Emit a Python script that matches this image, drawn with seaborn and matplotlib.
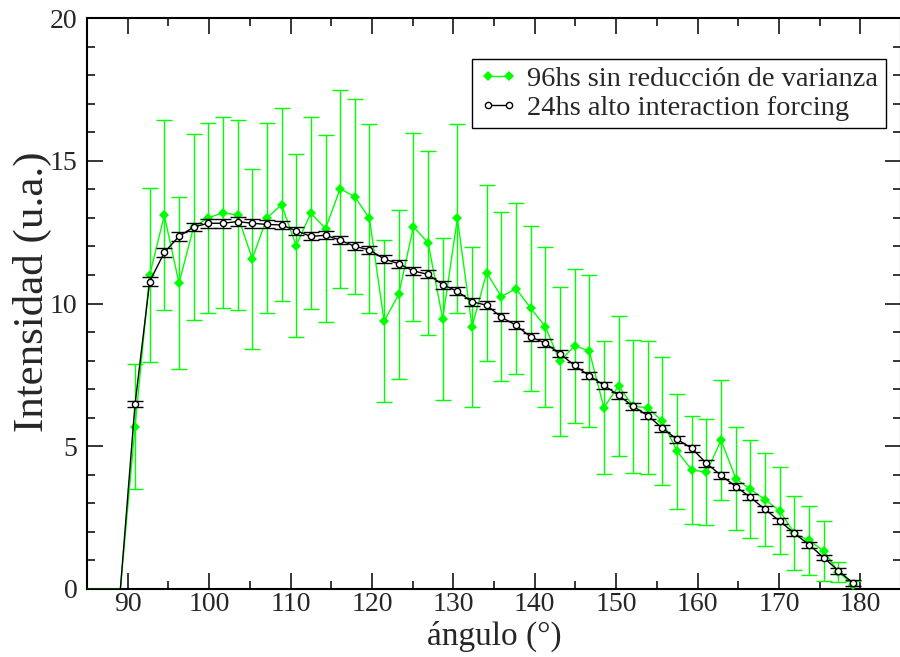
import matplotlib
matplotlib.use("Agg")
import matplotlib.pyplot as plt
import seaborn as sns
from matplotlib.ticker import MultipleLocator

sns.set_style("ticks")
plt.rcParams["font.family"] = ["Liberation Serif", "DejaVu Serif"]

# Bins below 90 degrees carry no counts
angulo_bajo = [83.7, 85.5, 87.3, 89.1]
intensidad_bajo = [0.0, 0.0, 0.0, 0.0]

# Bin centres (degrees)
angulo = [90.9, 92.7, 94.5, 96.3, 98.1, 99.9, 101.7, 103.5, 105.3, 107.1,
          108.9, 110.7, 112.5, 114.3, 116.1, 117.9, 119.7, 121.5, 123.3, 125.1,
          126.9, 128.7, 130.5, 132.3, 134.1, 135.9, 137.7, 139.5, 141.3, 143.1,
          144.9, 146.7, 148.5, 150.3, 152.1, 153.9, 155.7, 157.5, 159.3, 161.1,
          162.9, 164.7, 166.5, 168.3, 170.1, 171.9, 173.7, 175.5, 177.3, 179.1]

# 96 h run, no variance reduction
int_96h = [5.69, 11.0, 13.09, 10.71, 12.68, 13.0, 13.18, 13.1, 11.56, 13.0,
           13.46, 12.03, 13.17, 12.62, 14.02, 13.74, 12.98, 9.38, 10.32, 12.69,
           12.13, 9.46, 12.98, 9.19, 11.08, 10.24, 10.52, 9.84, 9.19, 7.97,
           8.52, 8.34, 6.35, 7.11, 6.4, 6.35, 5.87, 4.82, 4.17, 4.09,
           5.21, 3.87, 3.49, 3.13, 2.74, 1.95, 1.7, 1.34, 0.6, 0.15]
err_96h = [2.2, 3.06, 3.33, 3.02, 3.27, 3.32, 3.34, 3.33, 3.14, 3.32,
           3.38, 3.19, 3.35, 3.28, 3.46, 3.42, 3.32, 2.83, 2.97, 3.29,
           3.22, 2.84, 3.3, 2.8, 3.08, 2.95, 3.0, 2.89, 2.8, 2.61,
           2.7, 2.67, 2.33, 2.46, 2.33, 2.33, 2.24, 2.01, 1.89, 1.86,
           2.11, 1.81, 1.72, 1.62, 1.53, 1.3, 1.2, 1.05, 0.34, 0.12]

# 24 h run, high interaction forcing
int_24h = [6.47, 10.77, 11.79, 12.35, 12.68, 12.81, 12.81, 12.87, 12.81, 12.77,
           12.75, 12.55, 12.35, 12.39, 12.22, 12.0, 11.88, 11.56, 11.39, 11.14,
           11.02, 10.66, 10.43, 10.06, 9.94, 9.52, 9.24, 8.83, 8.61, 8.24,
           7.83, 7.47, 7.14, 6.78, 6.4, 6.07, 5.63, 5.24, 4.93, 4.4,
           3.98, 3.59, 3.21, 2.79, 2.38, 1.95, 1.55, 1.1, 0.64, 0.21]
err_24h = [0.11, 0.15, 0.16, 0.15, 0.15, 0.15, 0.15, 0.15, 0.15, 0.14,
           0.14, 0.14, 0.14, 0.14, 0.14, 0.14, 0.14, 0.14, 0.14, 0.14,
           0.14, 0.14, 0.14, 0.14, 0.14, 0.13, 0.13, 0.13, 0.13, 0.13,
           0.13, 0.13, 0.12, 0.12, 0.12, 0.12, 0.12, 0.12, 0.12, 0.12,
           0.12, 0.11, 0.11, 0.11, 0.11, 0.1, 0.1, 0.1, 0.1, 0.1]

etiqueta_96h = "96hs sin reducción de varianza"
etiqueta_24h = "24hs alto interaction forcing"

verde = "#00ff00"
negro = "black"

fig = plt.figure(figsize=(9, 6.57), dpi=100)
ax = fig.add_axes([87 / 900, 68 / 657, 814 / 900, 571 / 657])

# --- 96 h series (drawn first, underneath) ---
ax.errorbar(angulo, int_96h, yerr=err_96h, fmt="none", ecolor=verde,
            elinewidth=1.0, capsize=5.8, capthick=1.0, zorder=2)
sns.lineplot(x=angulo_bajo + [angulo[0]], y=intensidad_bajo + [int_96h[0]],
             ax=ax, color=verde, lw=1.0, errorbar=None, zorder=3)
sns.lineplot(x=angulo, y=int_96h, ax=ax, color=verde, lw=1.0, errorbar=None,
             marker="D", markersize=5, markeredgewidth=0, markerfacecolor=verde,
             label=etiqueta_96h, zorder=3)

# --- 24 h series (on top) ---
ax.errorbar(angulo, int_24h, yerr=err_24h, fmt="none", ecolor=negro,
            elinewidth=1.0, capsize=6.0, capthick=1.0, zorder=4)
sns.lineplot(x=angulo_bajo + [angulo[0]], y=intensidad_bajo + [int_24h[0]],
             ax=ax, color=negro, lw=1.0, errorbar=None, zorder=5)
sns.lineplot(x=angulo, y=int_24h, ax=ax, color=negro, lw=1.0, errorbar=None,
             marker="o", markersize=4.5, markeredgewidth=1.0,
             markerfacecolor="white", markeredgecolor=negro,
             label=etiqueta_24h, zorder=5)

# --- axes ---
ax.set_xlim(85, 185)
ax.set_ylim(0, 20)
ax.xaxis.set_major_locator(MultipleLocator(10))
ax.xaxis.set_minor_locator(MultipleLocator(5))
ax.yaxis.set_major_locator(MultipleLocator(5))
ax.yaxis.set_minor_locator(MultipleLocator(1))
ax.set_xticks([90, 100, 110, 120, 130, 140, 150, 160, 170, 180])

for s in ax.spines.values():
    s.set_visible(True)
    s.set_linewidth(1.5)
    s.set_color("black")

ax.tick_params(which="both", direction="in", top=True, right=True,
               width=1.1, color="black")
ax.tick_params(which="major", length=11.5, labelsize=20, pad=2)
ax.tick_params(which="minor", length=5.8)
ax.tick_params(axis="y", which="major", pad=7)

ax.set_xlabel("ángulo (°)", fontsize=24)
ax.set_ylabel("Intensidad (u.a.)", fontsize=31)
ax.xaxis.set_label_coords(0.5, -0.056)
ax.yaxis.set_label_coords(-0.043, 0.52)

leg = ax.legend(loc="upper right", bbox_to_anchor=(0.981, 0.928),
                fontsize=20.5, numpoints=2, handlelength=1.35,
                handletextpad=0.35, borderpad=0.25, borderaxespad=0.0,
                labelspacing=0.1, frameon=True, fancybox=False,
                framealpha=1.0, edgecolor="black")
leg.get_frame().set_linewidth(1.0)

fig.savefig("out.png", dpi=100)
